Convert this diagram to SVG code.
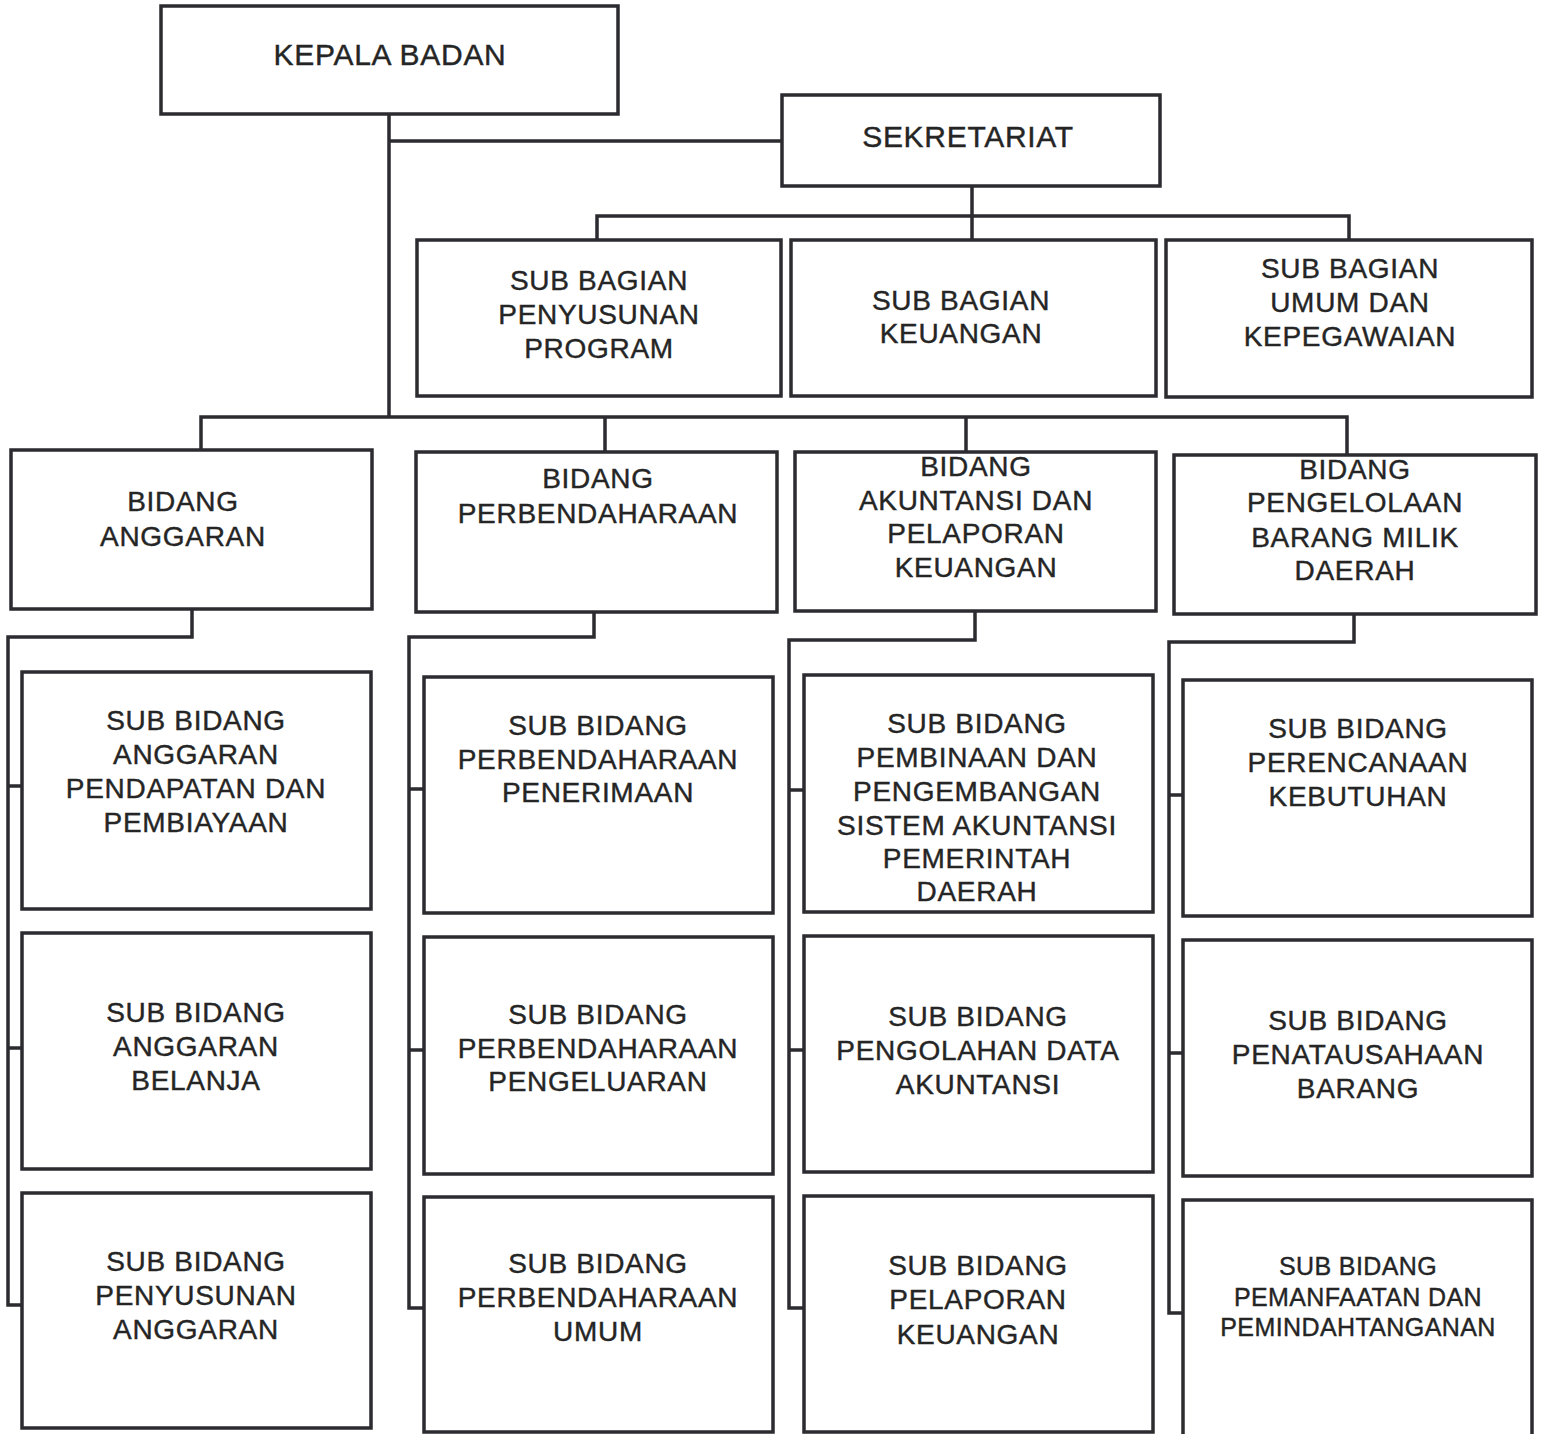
<svg xmlns="http://www.w3.org/2000/svg" width="1544" height="1434" viewBox="0 0 1544 1434">
<style>
.box{fill:#fff;stroke:#2b2b30;stroke-width:3.5}
.ln{fill:none;stroke:#2b2b30;stroke-width:3.5}
.t{font-family:"Liberation Sans",Arial,sans-serif;font-size:28px;fill:#252525;stroke:#252525;stroke-width:0.4px;text-anchor:middle;letter-spacing:0.7px}
.big{font-size:30px}
.sm{font-size:25px;letter-spacing:0.4px}
</style>
<rect width="1544" height="1434" fill="#fff"/>
<g id="connectors">
<path class="ln" d="M389 114V417M389 141H782"/>
<path class="ln" d="M972 186V216M597 240V216H1349V240M972 216V240"/>
<path class="ln" d="M201 450V417H1347V455M605 417V452M966 417V452"/>
<path class="ln" d="M192 609V637H8V1305H22M8 786H22M8 1048H22"/>
<path class="ln" d="M594 612V637H409V1308H424M409 789H424M409 1050H424"/>
<path class="ln" d="M975 611V640H789V1308H804M789 790H804M789 1050H804"/>
<path class="ln" d="M1354 614V642H1169V1313H1183M1169 795H1183M1169 1053H1183"/>
</g>
<g id="kepala-badan"><rect class="box" x="161" y="6" width="457" height="108"/><text class="t big" x="390" y="65">KEPALA BADAN</text></g>
<g id="sekretariat"><rect class="box" x="782" y="95" width="378" height="91"/><text class="t big" x="968" y="147">SEKRETARIAT</text></g>
<g id="sb-program"><rect class="box" x="417" y="240" width="364" height="156"/><text class="t" x="599" y="290">SUB BAGIAN</text><text class="t" x="599" y="324">PENYUSUNAN</text><text class="t" x="599" y="358">PROGRAM</text></g>
<g id="sb-keuangan"><rect class="box" x="791" y="240" width="365" height="156"/><text class="t" x="961" y="310">SUB BAGIAN</text><text class="t" x="961" y="343">KEUANGAN</text></g>
<g id="sb-umum"><rect class="box" x="1166" y="240" width="366" height="157"/><text class="t" x="1350" y="278">SUB BAGIAN</text><text class="t" x="1350" y="312">UMUM DAN</text><text class="t" x="1350" y="346">KEPEGAWAIAN</text></g>
<g id="bidang-anggaran"><rect class="box" x="11" y="450" width="361" height="159"/><text class="t" x="183" y="511">BIDANG</text><text class="t" x="183" y="546">ANGGARAN</text></g>
<g id="bidang-perbendaharaan"><rect class="box" x="416" y="452" width="361" height="160"/><text class="t" x="598" y="488">BIDANG</text><text class="t" x="598" y="523">PERBENDAHARAAN</text></g>
<g id="bidang-akuntansi"><rect class="box" x="795" y="452" width="361" height="159"/><text class="t" x="976" y="476">BIDANG</text><text class="t" x="976" y="510">AKUNTANSI DAN</text><text class="t" x="976" y="543">PELAPORAN</text><text class="t" x="976" y="577">KEUANGAN</text></g>
<g id="bidang-bmd"><rect class="box" x="1174" y="455" width="362" height="159"/><text class="t" x="1355" y="479">BIDANG</text><text class="t" x="1355" y="512">PENGELOLAAN</text><text class="t" x="1355" y="547">BARANG MILIK</text><text class="t" x="1355" y="580">DAERAH</text></g>
<g id="sbid-pendapatan"><rect class="box" x="22" y="672" width="349" height="237"/><text class="t" x="196" y="730">SUB BIDANG</text><text class="t" x="196" y="764">ANGGARAN</text><text class="t" x="196" y="798">PENDAPATAN DAN</text><text class="t" x="196" y="832">PEMBIAYAAN</text></g>
<g id="sbid-belanja"><rect class="box" x="22" y="933" width="349" height="236"/><text class="t" x="196" y="1022">SUB BIDANG</text><text class="t" x="196" y="1056">ANGGARAN</text><text class="t" x="196" y="1090">BELANJA</text></g>
<g id="sbid-penyusunan"><rect class="box" x="22" y="1193" width="349" height="235"/><text class="t" x="196" y="1271">SUB BIDANG</text><text class="t" x="196" y="1305">PENYUSUNAN</text><text class="t" x="196" y="1339">ANGGARAN</text></g>
<g id="sbid-penerimaan"><rect class="box" x="424" y="677" width="349" height="236"/><text class="t" x="598" y="735">SUB BIDANG</text><text class="t" x="598" y="769">PERBENDAHARAAN</text><text class="t" x="598" y="802">PENERIMAAN</text></g>
<g id="sbid-pengeluaran"><rect class="box" x="424" y="937" width="349" height="237"/><text class="t" x="598" y="1024">SUB BIDANG</text><text class="t" x="598" y="1058">PERBENDAHARAAN</text><text class="t" x="598" y="1091">PENGELUARAN</text></g>
<g id="sbid-umum"><rect class="box" x="424" y="1197" width="349" height="235"/><text class="t" x="598" y="1273">SUB BIDANG</text><text class="t" x="598" y="1307">PERBENDAHARAAN</text><text class="t" x="598" y="1341">UMUM</text></g>
<g id="sbid-sistem"><rect class="box" x="804" y="675" width="349" height="237"/><text class="t" x="977" y="733">SUB BIDANG</text><text class="t" x="977" y="767">PEMBINAAN DAN</text><text class="t" x="977" y="801">PENGEMBANGAN</text><text class="t" x="977" y="835">SISTEM AKUNTANSI</text><text class="t" x="977" y="868">PEMERINTAH</text><text class="t" x="977" y="901">DAERAH</text></g>
<g id="sbid-pengolahan"><rect class="box" x="804" y="936" width="349" height="236"/><text class="t" x="978" y="1026">SUB BIDANG</text><text class="t" x="978" y="1060">PENGOLAHAN DATA</text><text class="t" x="978" y="1094">AKUNTANSI</text></g>
<g id="sbid-pelaporan"><rect class="box" x="804" y="1196" width="349" height="236"/><text class="t" x="978" y="1275">SUB BIDANG</text><text class="t" x="978" y="1309">PELAPORAN</text><text class="t" x="978" y="1344">KEUANGAN</text></g>
<g id="sbid-perencanaan"><rect class="box" x="1183" y="680" width="349" height="236"/><text class="t" x="1358" y="738">SUB BIDANG</text><text class="t" x="1358" y="772">PERENCANAAN</text><text class="t" x="1358" y="806">KEBUTUHAN</text></g>
<g id="sbid-penatausahaan"><rect class="box" x="1183" y="940" width="349" height="236"/><text class="t" x="1358" y="1030">SUB BIDANG</text><text class="t" x="1358" y="1064">PENATAUSAHAAN</text><text class="t" x="1358" y="1098">BARANG</text></g>
<g id="sbid-pemanfaatan"><rect class="box" x="1183" y="1200" width="349" height="236"/><text class="t sm" x="1358" y="1275">SUB BIDANG</text><text class="t sm" x="1358" y="1306">PEMANFAATAN DAN</text><text class="t sm" x="1358" y="1336">PEMINDAHTANGANAN</text></g>
</svg>
